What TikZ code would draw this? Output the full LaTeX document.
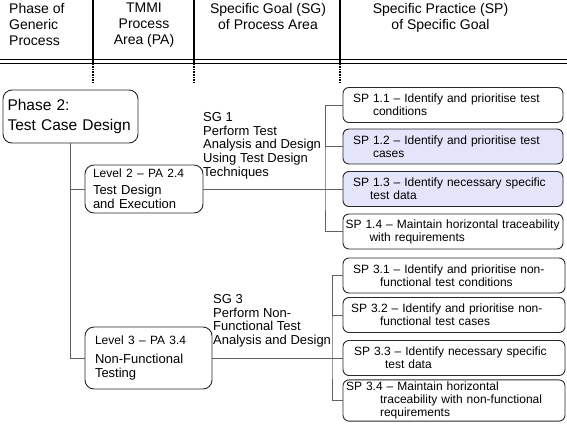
\documentclass[tikz,border=0pt]{standalone}
\usepackage{fontspec}
\setmainfont{Liberation Sans}
\usepackage{tikz}
\usetikzlibrary{positioning}
\usetikzlibrary{calc}

\definecolor{spfill}{RGB}{228,228,250}
\definecolor{linkgrey}{RGB}{96,96,96}
\definecolor{boxgrey}{RGB}{40,40,40}

\begin{document}
\begin{tikzpicture}[x=1pt,y=-1pt,
head/.style={font=\fontsize{14}{16}\selectfont,align=center,anchor=north,inner sep=0pt},
rule/.style={draw=black,line width=1.6pt},
link/.style={draw=linkgrey,line width=1pt},
phasebox/.style={draw=boxgrey,line width=0.9pt,rounded corners=9pt,align=left,font=\fontsize{15.5}{20}\selectfont,minimum height=53pt,text width=126pt,inner xsep=4.5pt},
lvlbox/.style={draw=boxgrey,line width=0.9pt,rounded corners=9pt,align=left,font=\fontsize{13}{14}\selectfont},
sgtext/.style={align=left,font=\fontsize{13}{13.8}\selectfont,anchor=north west,inner sep=0pt},
spbox/.style={draw=boxgrey,line width=0.9pt,rounded corners=6pt,minimum height=35pt,text width=200pt,inner xsep=10pt,inner ysep=2pt,align=left,font=\fontsize{12}{13}\selectfont},
spmark/.style={spbox,fill=spfill}]
\useasboundingbox (0,0) rectangle (567,423);

\node[head,anchor=north west,align=left](hdA) at (9,3){Phase of\\Generic\\Process};
\node[head](hdB) at (144,3){TMMI\\Process\\Area (PA)};
\node[head](hdC) at (268,3){Specific Goal (SG)\\of Process Area};
\node[head](hdD) at (440.5,3){Specific Practice (SP)\\of Specific Goal};

\draw[rule] (0,59.5) -- (567,59.5);
\draw[rule,line width=1pt] (0,63.5) -- (567,63.5);
\foreach \x in {93,194,340}{
  \draw[rule] (\x,0) -- (\x,63.5);
  \draw[rule,densely dotted] (\x,63.5) -- (\x,82);
}

\node[phasebox](phase) at (70.5,116.5){Phase 2:\\Test Case Design};
\node[lvlbox,text width=102pt,inner xsep=8pt,minimum height=48pt](lvl2) at (144,189){{\fontsize{12}{14}\selectfont Level 2 \textendash{} PA 2.4}\\[3pt]Test Design\\and Execution};
\node[lvlbox,text width=107pt,inner xsep=10pt,minimum height=62pt](lvl3) at (148.5,358){{\fontsize{12}{14}\selectfont Level 3 \textendash{} PA 3.4}\\[5pt]Non-Functional\\Testing};

\node[sgtext](sg1) at (203,112){SG 1\\Perform Test\\Analysis and Design\\Using Test Design\\Techniques};
\node[sgtext](sg3) at (213,294){SG 3\\Perform Non-\\Functional Test\\Analysis and Design};

\node[spbox](sp11) at (453,105){SP 1.1 \textendash{} Identify and prioritise test\\\hspace*{20pt}conditions};
\node[spmark](sp12) at (453,146.5){SP 1.2 \textendash{} Identify and prioritise test\\\hspace*{20pt}cases};
\node[spmark](sp13) at (453,189){SP 1.3 \textendash{} Identify necessary specific\\\hspace*{17pt}test data};
\node[spbox,inner xsep=2.5pt,text width=215pt](sp14) at (453,231.5){SP 1.4 \textendash{} Maintain horizontal traceability\\\hspace*{24pt}with requirements};

\node[spbox,minimum width=222pt,text width=202pt](sp31) at (454,275.5){SP 3.1 \textendash{} Identify and prioritise non-\\\hspace*{27pt}functional test conditions};
\node[spbox,minimum width=222pt,inner xsep=8pt,text width=206pt](sp32) at (454,315){SP 3.2 \textendash{} Identify and prioritise non-\\\hspace*{29pt}functional test cases};
\node[spbox,minimum width=222pt,inner xsep=11pt,text width=200pt](sp33) at (454,358){SP 3.3 \textendash{} Identify necessary specific\\\hspace*{31pt}test data};
\node[spbox,inner xsep=3pt,text width=216pt](sp34) at (454,400.5){SP 3.4 \textendash{} Maintain horizontal\\\hspace*{34pt}traceability with non-functional\\\hspace*{34pt}requirements};

\coordinate (joinA) at (325,189);
\coordinate (joinB) at (332,358);

\draw[link] (phase.south) |- (lvl3.west);
\draw[link] (phase.south |- lvl2.west) -- (lvl2.west);
\draw[link] (lvl2.east) -- (sp13.west);
\draw[link] (sp11.west) -| (joinA) |- (sp14.west);
\draw[link] (sp12.west) -- (sp12.west -| joinA);
\draw[link] (lvl3.east) -- (sp33.west);
\draw[link] (sp31.west) -| (joinB) |- (sp34.west);
\draw[link] (sp32.west) -- (sp32.west -| joinB);
\end{tikzpicture}
\end{document}
